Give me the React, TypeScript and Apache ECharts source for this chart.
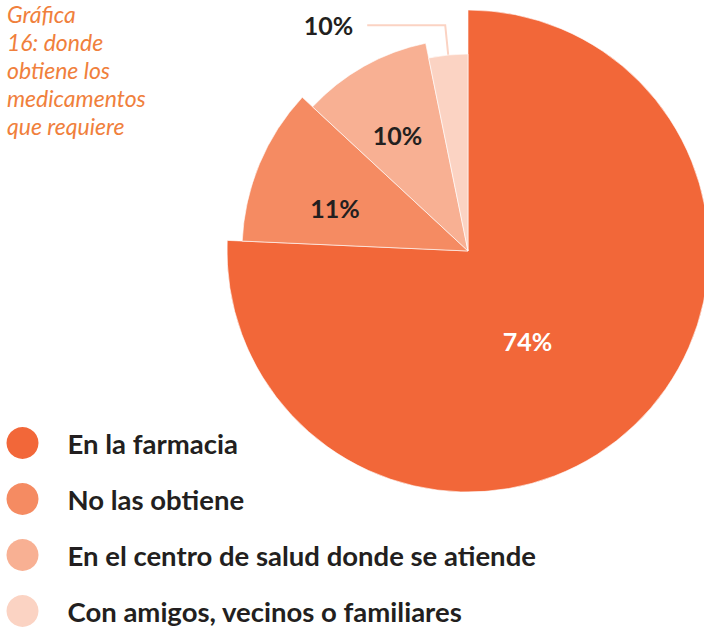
import React, { useEffect, useRef } from 'react';
import * as echarts from 'echarts';

// Data
const categories = [
  'En la farmacia',
  'No las obtiene',
  'En el centro de salud donde se atiende',
  'Con amigos, vecinos o familiares',
];
const shares = [75.7, 11.2, 9.9, 3.2]; // slice sizes as drawn
const labelTexts = ['74%', '11%', '10%', '10%']; // printed labels
const titleText = 'Gráfica\n16: donde\nobtiene los\nmedicamentos\nque requiere';

// Styles / layout
const colors = ['#F26739', '#F58B62', '#F8B093', '#FBD3C3'];
const radii = [241, 226, 212, 197];
const labelColors = ['#FFFFFF', '#231F20', '#231F20', '#231F20'];
const labelShift: Array<[number, number]> = [[-26, 1], [-26, 2], [-17, -21], [0, 0]];
const FONT = 'Lato, "Open Sans", sans-serif';

export default function App() {
  const ref = useRef<HTMLDivElement>(null);
  useEffect(() => {
    if (!ref.current) return;
    const chart = echarts.init(ref.current, undefined, { renderer: 'svg' });
    const series = categories.map((_, si) => ({
      type: 'pie',
      center: [468, 251],
      radius: [0, radii[si]],
      startAngle: 90,
      clockwise: true,
      silent: true,
      avoidLabelOverlap: false,
      z: 2 + si,
      labelLayout: si < 3 ? { dx: labelShift[si][0], dy: labelShift[si][1] } : undefined,
      data: categories.map((name, i) => {
        const visible = i === si;
        const outside = si === 3;
        return {
          name,
          value: shares[i],
          itemStyle: visible
            ? { color: colors[i], borderColor: '#ffffff', borderWidth: 0.6 }
            : { color: 'rgba(0,0,0,0)', borderWidth: 0 },
          label: visible
            ? {
                show: true,
                position: outside ? 'outside' : 'inside',
                formatter: labelTexts[i],
                color: labelColors[i],
                fontFamily: FONT,
                fontWeight: 'bold',
                fontSize: 25,
                alignTo: 'none',
                distanceToLabelLine: 14,
              }
            : { show: false },
          labelLine: visible && outside
            ? { show: true, length: 30, length2: 78, smooth: false, lineStyle: { color: colors[i], width: 2 } }
            : { show: false },
        };
      }),
    }));
    chart.setOption({
      animation: false,
      title: {
        text: titleText,
        left: 7,
        top: 0,
        padding: 0,
        textStyle: {
          fontFamily: FONT,
          fontStyle: 'italic',
          fontWeight: 'normal',
          fontSize: 23,
          lineHeight: 28,
          color: '#F0803C',
        },
      },
      legend: {
        orient: 'vertical',
        left: 6.5,
        top: 427,
        height: 210,
        padding: 0,
        itemWidth: 32,
        itemHeight: 32,
        itemGap: 24,
        icon: 'circle',
        selectedMode: false,
        data: categories.map((name, i) => ({
          name,
          itemStyle: { color: colors[i], opacity: 1, borderWidth: 0 },
        })),
        textStyle: {
          fontFamily: FONT,
          fontWeight: 'bold',
          fontSize: 27.5,
          color: '#231F20',
          padding: [0, 0, 0, 24],
        },
      },
      series,
    });
    return () => chart.dispose();
  }, []);
  return (
    <div
      ref={ref}
      style={{ position: 'absolute', left: 0, top: 0, width: 704, height: 627, background: '#fff' }}
    />
  );
}
